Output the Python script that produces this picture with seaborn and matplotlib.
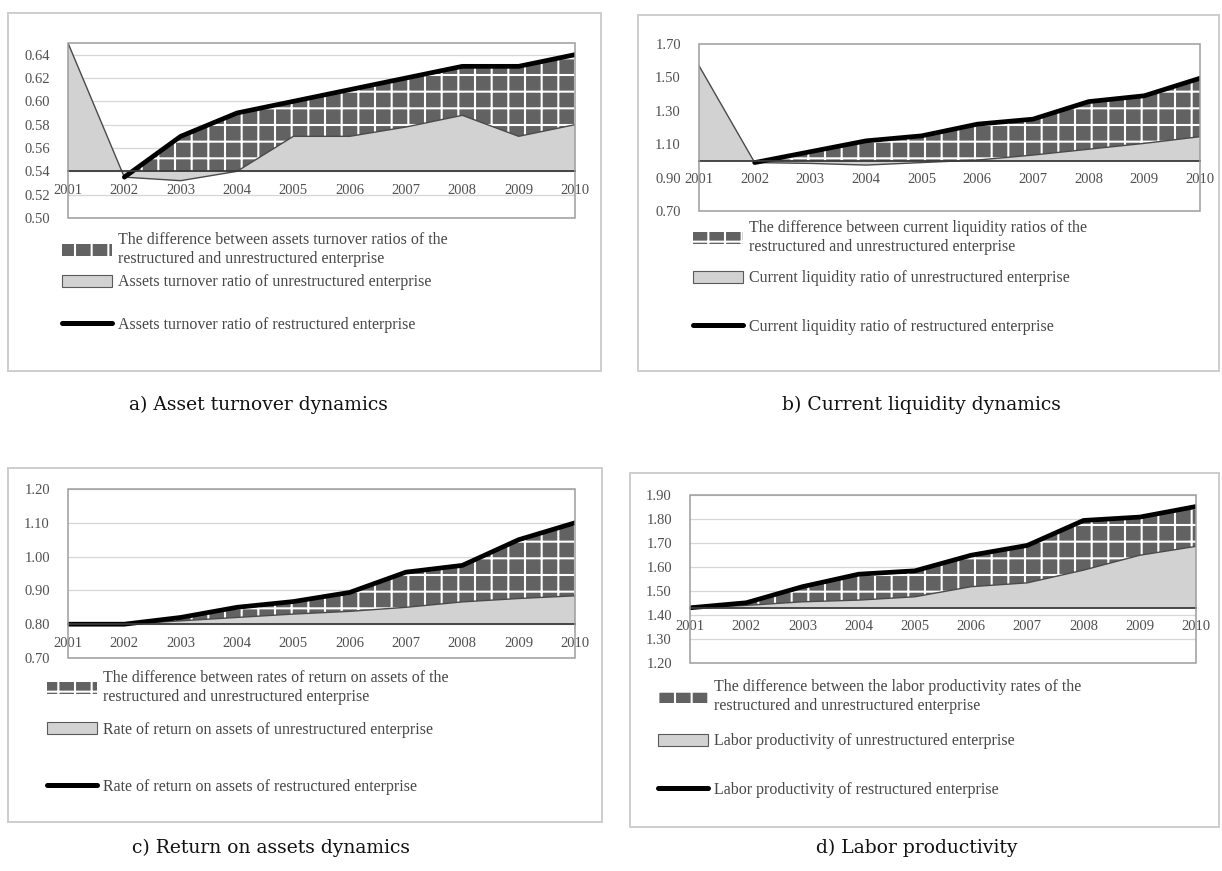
import numpy as np
import matplotlib
matplotlib.use("Agg")
import matplotlib.pyplot as plt
from matplotlib.patches import Patch, Rectangle
from matplotlib.lines import Line2D
import seaborn as sns

# ---------------------------------------------------------------- data
years = [2001, 2002, 2003, 2004, 2005, 2006, 2007, 2008, 2009, 2010]
year_labels = [str(y) for y in years]

# a) asset turnover
turnover_unrestructured = [0.650, 0.535, 0.532, 0.540, 0.570, 0.570, 0.578, 0.588, 0.570, 0.580]
turnover_restructured = [np.nan, 0.535, 0.570, 0.590, 0.600, 0.610, 0.620, 0.630, 0.630, 0.640]
turnover_ticks = [0.50, 0.52, 0.54, 0.56, 0.58, 0.60, 0.62, 0.64]

# b) current liquidity
liquidity_unrestructured = [1.570, 0.990, 0.985, 0.975, 0.990, 1.005, 1.035, 1.070, 1.105, 1.145]
liquidity_restructured = [np.nan, 0.990, 1.055, 1.120, 1.150, 1.220, 1.250, 1.355, 1.390, 1.495]
liquidity_ticks = [0.70, 0.90, 1.10, 1.30, 1.50, 1.70]

# c) return on assets
roa_unrestructured = [0.800, 0.800, 0.810, 0.820, 0.830, 0.838, 0.850, 0.866, 0.876, 0.884]
roa_restructured = [0.800, 0.800, 0.820, 0.850, 0.867, 0.894, 0.954, 0.974, 1.050, 1.100]
roa_ticks = [0.70, 0.80, 0.90, 1.00, 1.10, 1.20]

# d) labor productivity
labor_unrestructured = [1.430, 1.440, 1.455, 1.462, 1.476, 1.518, 1.534, 1.587, 1.649, 1.686]
labor_restructured = [1.430, 1.451, 1.518, 1.570, 1.584, 1.649, 1.690, 1.794, 1.808, 1.852]
labor_ticks = [1.20, 1.30, 1.40, 1.50, 1.60, 1.70, 1.80, 1.90]

legend_a = ["The difference between assets turnover ratios of the\nrestructured and unrestructured enterprise",
            "Assets turnover ratio of unrestructured enterprise",
            "Assets turnover ratio of restructured enterprise"]
legend_b = ["The difference between current liquidity ratios of the\nrestructured and unrestructured enterprise",
            "Current liquidity ratio of unrestructured enterprise",
            "Current liquidity ratio of restructured enterprise"]
legend_c = ["The difference between rates of return on assets of the\nrestructured and unrestructured enterprise",
            "Rate of return on assets of unrestructured enterprise",
            "Rate of return on assets of restructured enterprise"]
legend_d = ["The difference between the labor productivity rates of the\nrestructured and unrestructured enterprise",
            "Labor productivity of unrestructured enterprise",
            "Labor productivity of restructured enterprise"]

captions = ["a) Asset turnover dynamics", "b) Current liquidity dynamics",
            "c) Return on assets dynamics", "d) Labor productivity"]

# ---------------------------------------------------------------- style
sns.set_style("white")
plt.rcParams["font.family"] = ["Liberation Serif", "DejaVu Serif"]
plt.rcParams["hatch.linewidth"] = 1.5
plt.rcParams["hatch.color"] = "white"

HATCH_FACE = "#626262"
LIGHT_FACE = "#d2d2d2"
TEXT_GREY = "#505050"
FRAME_GREY = "#9c9c9c"
BOX_GREY = "#cdcdcd"
LEGEND_FONT = {"family": "Liberation Serif", "size": 11.5}

W, H = 1222, 871
fig = plt.figure(figsize=(W / 100, H / 100), dpi=100)
fig.patch.set_facecolor("white")


def px_rect(x0, y0, x1, y1):
    """Pixel box (top-left origin) -> figure fraction [l, b, w, h]."""
    return [x0 / W, 1 - y1 / H, (x1 - x0) / W, (y1 - y0) / H]


def chart_box(x0, y0, x1, y1):
    l, b, w, h = px_rect(x0, y0, x1, y1)
    fig.add_artist(Rectangle((l, b), w, h, transform=fig.transFigure,
                             fill=False, edgecolor=BOX_GREY, linewidth=1.4))


def draw_panel(rect, unres, res, cross, ylim, yticks, grid, labels,
               leg_x, leg_y, line_y, spacing):
    ax = fig.add_axes(px_rect(*rect))
    unres = np.asarray(unres, dtype=float)
    res = np.asarray(res, dtype=float)
    res_fill = np.where(np.isnan(res), unres, res)

    # difference between restructured and unrestructured (stacked on top)
    ax.fill_between(years, unres, res_fill, facecolor=HATCH_FACE,
                    edgecolor="white", hatch="+", linewidth=0, zorder=2)
    # unrestructured enterprise area, drawn from the axis crossing value
    ax.fill_between(years, cross, unres, facecolor=LIGHT_FACE,
                    edgecolor="none", linewidth=0, zorder=3)
    sns.lineplot(x=years, y=unres, ax=ax, color="#4a4a4a", linewidth=1.0,
                 zorder=4, legend=False)
    sns.lineplot(x=years, y=res, ax=ax, color="black", linewidth=3.4,
                 zorder=5, legend=False)

    ax.set_xlim(years[0], years[-1])
    ax.set_ylim(*ylim)
    ax.set_yticks(yticks)
    ax.set_yticklabels([f"{t:.2f}" for t in yticks])
    ax.set_xticks(years)
    ax.set_xticklabels(year_labels)
    ax.set_xlabel("")
    ax.set_ylabel("")

    if grid:
        ax.yaxis.grid(True, color="#d6d6d6", linewidth=0.9)
    else:
        ax.yaxis.grid(False)
    ax.xaxis.grid(False)
    ax.set_axisbelow(True)

    for side in ("top", "left", "right"):
        ax.spines[side].set_visible(False)
    ax.spines["bottom"].set_position(("data", cross))
    ax.spines["bottom"].set_color("#3a3a3a")
    ax.spines["bottom"].set_linewidth(1.3)
    ax.spines["bottom"].set_zorder(6)
    ax.add_patch(Rectangle((0, 0), 1, 1, transform=ax.transAxes, fill=False,
                           edgecolor=FRAME_GREY, linewidth=1.1, zorder=7,
                           clip_on=False))

    ax.tick_params(axis="x", length=0, pad=9, labelsize=10.5, labelcolor=TEXT_GREY)
    ax.tick_params(axis="y", length=0, pad=13, labelsize=10.5, labelcolor=TEXT_GREY)

    # legend: the two areas, then the line entry set further down
    area_handles = [Patch(facecolor=HATCH_FACE, edgecolor="white", hatch="+", linewidth=0),
                    Patch(facecolor=LIGHT_FACE, edgecolor="#5a5a5a", linewidth=0.8)]
    leg_kw = dict(loc="upper left", bbox_transform=fig.transFigure, frameon=False,
                  borderpad=0, borderaxespad=0, handlelength=3.1, handleheight=0.8,
                  handletextpad=0.4, prop=LEGEND_FONT)
    leg1 = ax.legend(area_handles, labels[:2], bbox_to_anchor=(leg_x / W, 1 - leg_y / H),
                     labelspacing=spacing, **leg_kw)
    for t in leg1.get_texts():
        t.set_color("#474747")
        t.set_linespacing(1.25)
    ax.add_artist(leg1)
    leg2 = ax.legend([Line2D([], [], color="black", linewidth=3.6)], labels[2:],
                     bbox_to_anchor=(leg_x / W, 1 - line_y / H), **leg_kw)
    for t in leg2.get_texts():
        t.set_color("#474747")
    return ax


# chart area borders
chart_box(8, 13, 601, 371)
chart_box(638, 15, 1219, 371)
chart_box(8, 468, 602, 822)
chart_box(630, 473, 1219, 827)

draw_panel((68, 43, 575, 218), turnover_unrestructured, turnover_restructured,
           0.54, (0.50, 0.65), turnover_ticks, True, legend_a, 62, 232, 317, 0.45)
draw_panel((699, 44, 1200, 211), liquidity_unrestructured, liquidity_restructured,
           1.00, (0.70, 1.70), liquidity_ticks, False, legend_b, 693, 220, 319, 0.95)
draw_panel((68, 489, 575, 658), roa_unrestructured, roa_restructured,
           0.80, (0.70, 1.20), roa_ticks, True, legend_c, 47, 670, 779, 1.05)
draw_panel((690, 495, 1196, 663), labor_unrestructured, labor_restructured,
           1.43, (1.20, 1.90), labor_ticks, True, legend_d, 658, 679, 782, 1.2)

# panel captions
caption_pos = [(258, 405), (921, 405), (271, 848), (917, 848)]
for text, (cx, cy) in zip(captions, caption_pos):
    fig.text(cx / W, 1 - cy / H, text, ha="center", va="center",
             fontsize=13.5, family="DejaVu Serif", color="#111111")

fig.savefig("out.png", dpi=100, facecolor="white")
